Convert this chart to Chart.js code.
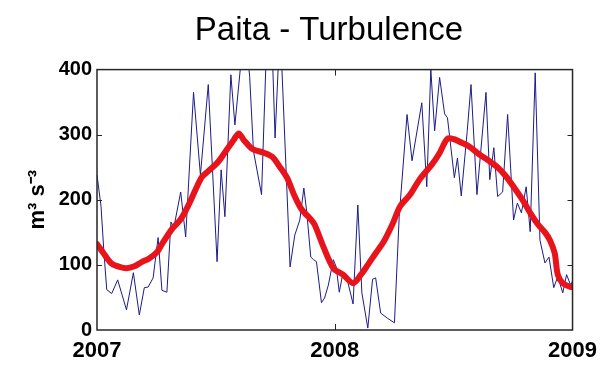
<!DOCTYPE html>
<html>
<head>
<meta charset="utf-8">
<script src="https://cdn.jsdelivr.net/npm/chart.js@4/dist/chart.umd.min.js"></script>
<style>
  html, body { margin: 0; padding: 0; background: #fff; }
  #c { display: block; }
</style>
</head>
<body>
<canvas id="c" width="605" height="365"></canvas>
<script>
// Weekly turbulence samples (decimal year, m^3 s^-3)
const sampleYears = [
  2007.000, 2007.017, 2007.029, 2007.041, 2007.062, 2007.087, 2007.124, 2007.153,
  2007.178, 2007.199, 2007.215, 2007.236, 2007.257, 2007.273, 2007.294, 2007.311,
  2007.323, 2007.352, 2007.373, 2007.406, 2007.435, 2007.468, 2007.505, 2007.522,
  2007.538, 2007.563, 2007.580, 2007.613, 2007.625, 2007.642, 2007.658, 2007.692,
  2007.716, 2007.737, 2007.749, 2007.770, 2007.812, 2007.832, 2007.853, 2007.870,
  2007.882, 2007.899, 2007.911, 2007.923, 2007.944, 2007.957, 2007.973, 2007.994,
  2008.006, 2008.019, 2008.035, 2008.052, 2008.077, 2008.097, 2008.114, 2008.139,
  2008.159, 2008.172, 2008.193, 2008.222, 2008.251, 2008.271, 2008.304, 2008.325,
  2008.366, 2008.387, 2008.404, 2008.420, 2008.441, 2008.462, 2008.474, 2008.503,
  2008.516, 2008.532, 2008.557, 2008.573, 2008.598, 2008.636, 2008.652, 2008.669,
  2008.685, 2008.706, 2008.727, 2008.752, 2008.768, 2008.785, 2008.805, 2008.822,
  2008.843, 2008.863, 2008.884, 2008.901, 2008.921, 2008.938, 2008.959, 2008.975,
  2008.992, 2009.000
];
const sampleValues = [
  238, 190, 120, 62, 56, 77, 31, 88,
  23, 65, 66, 80, 142, 61, 58, 166,
  157, 212, 143, 365, 238, 377, 105, 246,
  174, 392, 315, 440, 450, 390, 275, 208,
  470, 430, 295, 470, 97, 146, 169, 218,
  182, 112, 108, 105, 42, 49, 69, 108,
  97, 58, 89, 78, 40, 192, 57, 3,
  78, 80, 26, 18, 11, 174, 331, 260,
  349, 220, 400, 306, 388, 332, 326, 234,
  264, 206, 305, 377, 208, 365, 231, 280,
  205, 212, 331, 169, 195, 180, 220, 151,
  395, 138, 103, 112, 65, 82, 57, 85,
  69, 75
];

// Smoothed seasonal curve
const smoothYears = [
  2007.000, 2007.033, 2007.062, 2007.095, 2007.124, 2007.157, 2007.186, 2007.219,
  2007.253, 2007.273, 2007.315, 2007.352, 2007.385, 2007.439, 2007.468, 2007.509,
  2007.542, 2007.575, 2007.596, 2007.617, 2007.654, 2007.704, 2007.737, 2007.766,
  2007.799, 2007.832, 2007.861, 2007.894, 2007.915, 2007.952, 2007.994, 2008.035,
  2008.077, 2008.110, 2008.139, 2008.172, 2008.205, 2008.242, 2008.275, 2008.317,
  2008.358, 2008.408, 2008.441, 2008.474, 2008.503, 2008.532, 2008.565, 2008.607,
  2008.648, 2008.681, 2008.718, 2008.752, 2008.793, 2008.822, 2008.855, 2008.884,
  2008.905, 2008.925, 2008.938, 2008.959, 2008.992, 2009.000
];
const smoothValues = [
  132, 115, 102, 97, 95, 98, 104, 110,
  120, 132, 155, 170, 192, 234, 244, 258,
  275, 292, 302, 292, 278, 272, 266, 252,
  234, 205, 185, 172, 162, 128, 95, 85,
  72, 85, 100, 118, 135, 162, 190, 208,
  232, 254, 272, 294, 293, 288, 282, 270,
  260, 251, 237, 220, 198, 180, 162, 150,
  138, 118, 85, 72, 66, 66
];

const xTickLabels = ['2007', '2008', '2009'];
const yTickValues = [0, 100, 200, 300, 400];
const chartTitle = 'Paita - Turbulence';
const yAxisTitle = 'm\u00B3 s\u207B\u00B3';

const toPoints = (xs, ys) => xs.map((x, i) => ({ x: x, y: ys[i] }));

// Boxed frame with short inward ticks on all four sides
const framePlugin = {
  id: 'frame',
  afterDatasetsDraw(chart) {
    const { ctx, chartArea: a, scales } = chart;
    ctx.save();
    ctx.strokeStyle = '#262626';
    ctx.lineWidth = 1.5;
    ctx.strokeRect(a.left, a.top, a.right - a.left, a.bottom - a.top);
    ctx.lineWidth = 1;
    ctx.beginPath();
    yTickValues.slice(1, -1).forEach(v => {
      const py = Math.round(scales.y.getPixelForValue(v)) + 0.5;
      ctx.moveTo(a.left, py); ctx.lineTo(a.left + 5, py);
      ctx.moveTo(a.right, py); ctx.lineTo(a.right - 5, py);
    });
    const px = Math.round(scales.x.getPixelForValue(2008)) + 0.5;
    ctx.moveTo(px, a.bottom); ctx.lineTo(px, a.bottom - 6);
    ctx.moveTo(px, a.top); ctx.lineTo(px, a.top + 6);
    ctx.stroke();
    ctx.restore();
  }
};

const fontFamily = "'Liberation Sans', Arial, sans-serif";

new Chart(document.getElementById('c'), {
  type: 'line',
  data: {
    datasets: [
      {
        data: toPoints(smoothYears, smoothValues),
        borderColor: '#e8141b',
        borderWidth: 6,
        pointRadius: 0,
        tension: 0.3,
        borderCapStyle: 'round',
        borderJoinStyle: 'round'
      },
      {
        data: toPoints(sampleYears, sampleValues),
        borderColor: '#1c1c88',
        borderWidth: 1,
        pointRadius: 0,
        tension: 0
      }
    ]
  },
  options: {
    responsive: false,
    animation: false,
    events: [],
    layout: { padding: { left: 53, right: 0, top: 0, bottom: 0 } },
    plugins: {
      legend: { display: false },
      tooltip: { enabled: false },
      title: {
        display: true,
        text: chartTitle,
        color: '#000',
        font: { family: fontFamily, size: 33, weight: 'normal', lineHeight: 1.2 },
        padding: { top: 11, bottom: 19 }
      }
    },
    scales: {
      x: {
        type: 'linear',
        min: 2007,
        max: 2009,
        grid: { display: false, drawTicks: false },
        border: { display: false },
        ticks: {
          stepSize: 1,
          autoSkip: false,
          maxRotation: 0,
          padding: 8,
          color: '#000',
          font: { family: fontFamily, size: 22, weight: 'bold' },
          callback: (v) => xTickLabels[Math.round(v - 2007)]
        },
        afterFit: (s) => { s.height = 35; }
      },
      y: {
        min: 0,
        max: 400,
        grid: { display: false, drawTicks: false },
        border: { display: false },
        ticks: {
          stepSize: 100,
          padding: 5,
          color: '#000',
          font: { family: fontFamily, size: 20, weight: 'bold' }
        },
        title: {
          display: true,
          text: yAxisTitle,
          color: '#000',
          font: { family: fontFamily, size: 22, weight: 'bold' },
          padding: { top: -28, bottom: 0 }
        },
        afterFit: (s) => { s.width = 44; }
      },
      // Unlabelled right-hand axis: keeps the right margin beside the box
      yRight: {
        position: 'right',
        min: 0,
        max: 400,
        grid: { display: false, drawTicks: false },
        border: { display: false },
        ticks: { display: false },
        afterFit: (s) => { s.width = 25; }
      }
    }
  },
  plugins: [framePlugin]
});
</script>
</body>
</html>
